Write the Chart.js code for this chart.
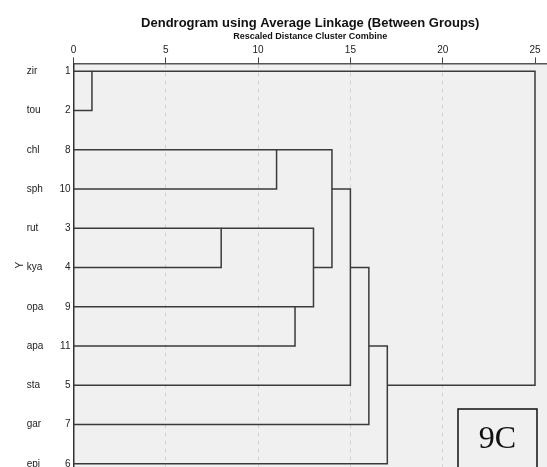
<!DOCTYPE html>
<html>
<head>
<meta charset="utf-8">
<script src="https://cdn.jsdelivr.net/npm/chart.js@4/dist/chart.umd.min.js"></script>
<style>
  body { margin: 0; background: #fff; }
  canvas { display: block; }
</style>
</head>
<body>
<canvas id="dendro" width="547" height="467"></canvas>
<script>
// cases in dendrogram order (top to bottom)
const caseLabels = ['zir', 'tou', 'chl', 'sph', 'rut', 'kya', 'opa', 'apa', 'sta', 'gar', 'epi'];
const caseNumbers = [1, 2, 8, 10, 3, 4, 9, 11, 5, 7, 6];
const xTicks = [0, 5, 10, 15, 20, 25];

// agglomeration steps: node ids 0-10 are cases, step k creates node 11 + k
const stepLeft = [0, 4, 2, 6, 12, 13, 16, 17, 18, 11];
const stepRight = [1, 5, 3, 7, 14, 15, 8, 9, 10, 19];
const stepDistance = [1, 8, 11, 12, 13, 14, 15, 16, 17, 25];
// row on which the new cluster's line continues
const stepRow = [0, 4, 2, 6, 5, 3, 5, 7, 8, 4];

const nCases = caseLabels.length;

function nodeRow(id) {
  return id < nCases ? id : stepRow[id - nCases];
}
function nodeStart(id) {
  return id < nCases ? 0 : stepDistance[id - nCases];
}

const datasets = stepLeft.map((a, k) => {
  const b = stepRight[k];
  const d = stepDistance[k];
  return {
    data: [
      { x: nodeStart(a), y: nodeRow(a) },
      { x: d, y: nodeRow(a) },
      { x: d, y: nodeRow(b) },
      { x: nodeStart(b), y: nodeRow(b) }
    ],
    showLine: true,
    borderColor: '#3a3a3a',
    borderWidth: 1.5,
    pointRadius: 0,
    fill: false,
    tension: 0
  };
});

const plotBackground = {
  id: 'plotBackground',
  beforeDraw(chart) {
    const { ctx, chartArea } = chart;
    ctx.save();
    ctx.fillStyle = '#f0f0f0';
    ctx.fillRect(chartArea.left, chartArea.top, chartArea.right - chartArea.left, chartArea.bottom - chartArea.top);
    ctx.restore();
  }
};

// the "9C" tag in the lower right corner
const panelTag = {
  id: 'panelTag',
  afterDraw(chart) {
    const ctx = chart.ctx;
    ctx.save();
    ctx.fillStyle = '#f0f0f0';
    ctx.fillRect(458, 409, 79, 70);
    ctx.strokeStyle = '#111';
    ctx.lineWidth = 1.5;
    ctx.strokeRect(458, 409, 79, 70);
    ctx.fillStyle = '#111';
    ctx.font = '32px "Liberation Serif", "Times New Roman", serif';
    ctx.textAlign = 'center';
    ctx.textBaseline = 'alphabetic';
    ctx.fillText('9C', 497.5, 448);
    ctx.restore();
  }
};

const labelFont = { family: '"Liberation Sans", Arial, sans-serif', size: 10 };
const rowTicks = (scale) => { scale.ticks = caseLabels.map((_, i) => ({ value: i })); };
// don't let the edge labels shrink the plot
const noEdgePadding = (scale) => {
  scale.paddingTop = 0;
  scale.paddingBottom = 0;
};

new Chart(document.getElementById('dendro'), {
  type: 'scatter',
  data: { datasets },
  options: {
    responsive: false,
    animation: false,
    devicePixelRatio: 1,
    layout: { padding: { left: 10, right: 0, top: 0, bottom: 0 } },
    plugins: {
      legend: { display: false },
      tooltip: { enabled: false },
      title: {
        display: true,
        fullSize: false,
        text: 'Dendrogram using Average Linkage (Between Groups)',
        color: '#111',
        font: { family: '"Liberation Sans", Arial, sans-serif', size: 13, weight: 'bold' },
        padding: { top: 16, bottom: 0 }
      }
    },
    scales: {
      x: {
        type: 'linear',
        position: 'top',
        min: 0,
        max: 25.65,
        afterBuildTicks: (scale) => { scale.ticks = xTicks.map(v => ({ value: v })); },
        afterFit: (scale) => { scale.paddingLeft = 0; scale.paddingRight = 0; },
        ticks: { color: '#222', font: labelFont, padding: 1, maxRotation: 0 },
        title: {
          display: true,
          text: 'Rescaled Distance Cluster Combine',
          color: '#111',
          font: { family: '"Liberation Sans", Arial, sans-serif', size: 9, weight: 'bold' },
          padding: { top: 0, bottom: 1 }
        },
        grid: {
          color: (c) => (c.tick && c.tick.value > 0 && c.tick.value < 25 ? '#d2d2d2' : 'rgba(0,0,0,0)'),
          tickColor: '#444',
          tickLength: 6,
          tickBorderDash: [],
          lineWidth: 1
        },
        border: { display: true, color: '#555', width: 1.5, dash: [4, 4] }
      },
      y: {
        type: 'linear',
        position: 'left',
        reverse: true,
        min: -0.2,
        max: 10.08,
        weight: 0,
        afterBuildTicks: rowTicks,
        afterFit: (scale) => { scale.width = 26; noEdgePadding(scale); },
        ticks: { color: '#222', font: labelFont, padding: 3, callback: (v) => caseNumbers[v] },
        grid: { display: false, drawTicks: false },
        border: { display: true, color: '#333', width: 1.5 }
      },
      yName: {
        type: 'linear',
        position: 'left',
        reverse: true,
        min: -0.2,
        max: 10.08,
        weight: 1,
        afterBuildTicks: rowTicks,
        afterFit: (scale) => { scale.width = 20.8; noEdgePadding(scale); },
        ticks: { color: '#222', font: labelFont, padding: 0, crossAlign: 'far', callback: (v) => caseLabels[v] },
        grid: { display: false, drawTicks: false },
        border: { display: false }
      },
      yTitle: {
        type: 'linear',
        position: 'left',
        min: 0,
        max: 1,
        weight: 2,
        afterFit: (scale) => { scale.width = 16.7; noEdgePadding(scale); },
        ticks: { display: false },
        title: {
          display: true,
          text: 'Y',
          color: '#222',
          font: labelFont,
          padding: { top: 4, bottom: 4 }
        },
        grid: { display: false, drawTicks: false },
        border: { display: false }
      }
    }
  },
  plugins: [plotBackground, panelTag]
});
</script>
</body>
</html>
